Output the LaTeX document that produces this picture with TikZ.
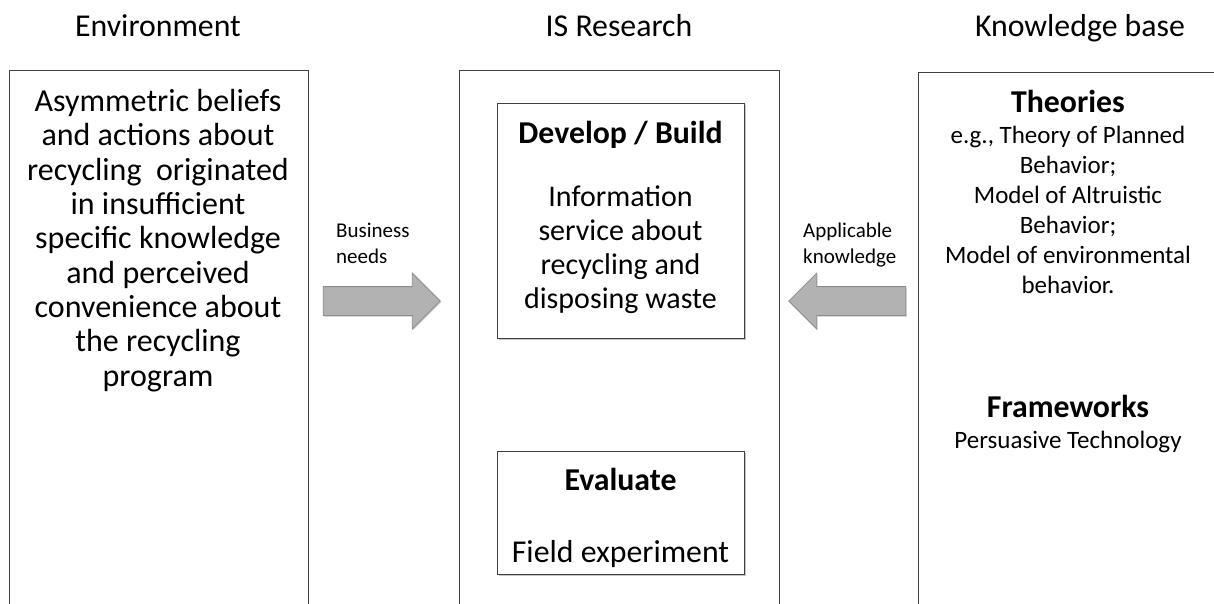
\documentclass[tikz,border=0pt]{standalone}
\usepackage{fontspec}
\setmainfont{Carlito}
\usetikzlibrary{positioning,shapes.arrows,shadows}

\tikzset{
  panel/.style={draw=black!75, line width=1.1pt, anchor=north west, inner sep=0pt},
  stage/.style={panel, fill=white, drop shadow={shadow xshift=1.2pt, shadow yshift=-1.2pt, opacity=.45}},
  head/.style={font=\fontsize{31.8}{34}\selectfont, anchor=base, inner sep=0pt},
  title/.style={head, font=\bfseries\fontsize{31.8}{34}\selectfont},
  % multi-line texts sit on the baseline of their last line
  body/.style={font=\fontsize{32}{34.3}\selectfont, align=center, inner sep=0pt, anchor=base},
  small/.style={font=\fontsize{25}{30}\selectfont, align=center, inner sep=0pt, anchor=base},
  tiny/.style={font=\fontsize{21}{26}\selectfont, align=left, inner sep=0pt, anchor=base west},
  flow/.style={single arrow, single arrow head extend=13.5pt, minimum width=55pt, minimum height=117pt,
    inner sep=14pt, fill=black!30, draw=black!45, line width=0.8pt,
    drop shadow={shadow xshift=1pt, shadow yshift=-1.5pt, opacity=.3}}
}

\begin{document}
\begin{tikzpicture}[x=1pt,y=-1pt]
\useasboundingbox (0,0) rectangle (1214,603);
\clip (0,0) rectangle (1214,603);
\fill[white] (0,0) rectangle (1214,603);

% column titles
\node[head] (envtitle) at (158,36) {Environment};
\node[head] (istitle) at (619,36) {IS Research};
\node[head] (kbtitle) at (1080,36) {Knowledge base};

% the three columns
\node[panel, minimum width=299pt, minimum height=590pt] (env) at (9,70) {};
\node[panel, minimum width=320pt, minimum height=590pt] (research) at (459,70) {};
\node[panel, minimum width=320pt, minimum height=590pt] (kbase) at (918,72) {};

% environment
\node[body] (problem) at (158,386) {Asymmetric beliefs\\and actions about\\recycling\ \ originated\\in insufficient\\specific knowledge\\and perceived\\convenience about\\the recycling\\program};

% IS research
\node[stage, minimum width=247pt, minimum height=235pt] (build) at (497,103) {};
\node[stage, minimum width=247pt, minimum height=123pt] (evaluate) at (497,451) {};
\node[title] (buildtitle) at (620.5,143) {Develop / Build};
\node[body, font=\fontsize{30}{34}\selectfont] (artifact) at (620.5,308) {Information\\service about\\recycling and\\disposing waste};
\node[title] (evaltitle) at (620.5,490) {Evaluate};
\node[head] (method) at (620.5,562) {Field experiment};

% knowledge base
\node[title] (theories) at (1068,112) {Theories};
\node[small] (theorylist) at (1068,293) {e.g., Theory of Planned\\Behavior;\\Model of Altruistic\\Behavior;\\Model of environmental\\behavior.};
\node[title] (frameworks) at (1068,417) {Frameworks};
\node[head, font=\fontsize{25}{30}\selectfont] (persuasive) at (1068,448) {Persuasive Technology};

% relevance and rigor cycles
\node[tiny] (needs) at (336,263) {Business\\needs};
\node[flow] (needsarrow) at (374.5,301) {};
\node[tiny] (knowledge) at (803,263) {Applicable\\knowledge};
\node[flow, shape border rotate=180] (knowarrow) at (854.5,301) {};
\end{tikzpicture}
\end{document}
